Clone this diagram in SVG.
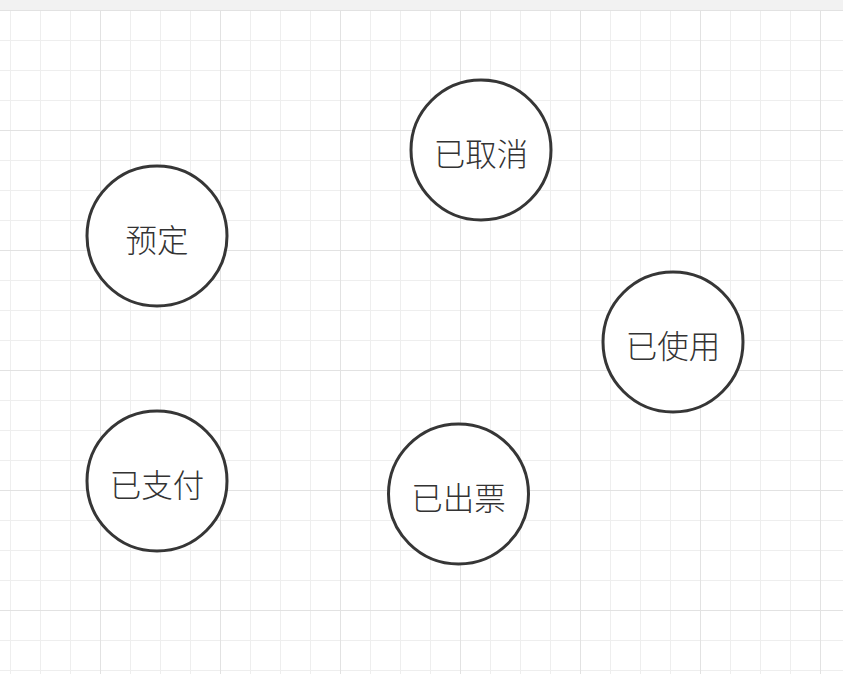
<svg xmlns="http://www.w3.org/2000/svg" width="843" height="674" viewBox="0 0 843 674">
<defs>
<pattern id="minor" x="10" y="10" width="30" height="30" patternUnits="userSpaceOnUse">
<path d="M0.5 0V30M0 0.5H30" stroke="#eeeeee" stroke-width="1" fill="none"/>
</pattern>
<pattern id="major" x="100" y="10" width="120" height="120" patternUnits="userSpaceOnUse">
<path d="M0.5 0V120M0 0.5H120" stroke="#e2e2e2" stroke-width="1" fill="none"/>
</pattern>
</defs>
<style>
.node circle{fill:#ffffff;stroke:#363636;stroke-width:3}
.node text{font-family:"Noto Sans CJK SC","Noto Sans",sans-serif;font-size:31.5px;font-weight:300;fill:#333333;text-anchor:middle;dominant-baseline:central}
</style>
<rect width="843" height="674" fill="#ffffff"/>
<rect width="843" height="674" fill="url(#minor)"/>
<rect width="843" height="674" fill="url(#major)"/>
<rect width="843" height="10" fill="#f2f2f2"/>
<g id="connectors"></g>
<g id="n-yuding" class="node"><circle cx="157" cy="236" r="70"/><text x="157" y="238">预定</text></g>
<g id="n-yiquxiao" class="node"><circle cx="481" cy="150" r="70"/><text x="481" y="152">已取消</text></g>
<g id="n-yishiyong" class="node"><circle cx="673" cy="342" r="70"/><text x="673" y="344">已使用</text></g>
<g id="n-yizhifu" class="node"><circle cx="157" cy="481" r="70"/><text x="157" y="483">已支付</text></g>
<g id="n-yichupiao" class="node"><circle cx="458.5" cy="494" r="70"/><text x="458.5" y="496">已出票</text></g>
</svg>
